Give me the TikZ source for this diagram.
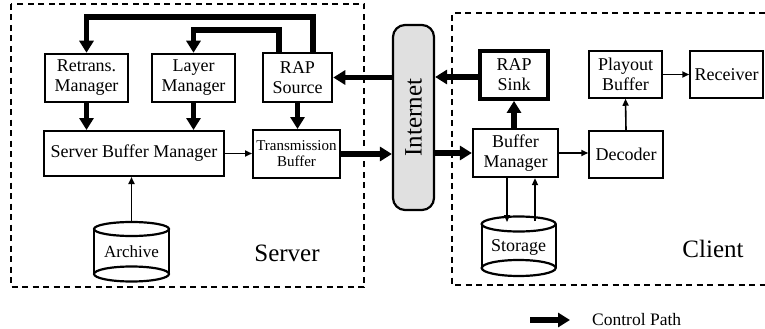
\documentclass[tikz,border=0pt]{standalone}
\usepackage{fontspec}
\setmainfont{Liberation Serif}
\usetikzlibrary{arrows.meta}
\definecolor{netgray}{RGB}{224,224,224}
\begin{document}
\begin{tikzpicture}[x=1pt,y=-1pt,
  box/.style={draw, align=center, inner sep=0pt, font=\fontsize{18}{20}\selectfont},
  dashbox/.style={line width=2pt, dash pattern=on 6pt off 4.5pt},
  ctl/.style={line width=5.5pt, -{Triangle[length=12pt,width=14pt]}},
  dataarrow/.style={line width=1.6pt, -{Triangle[length=7pt,width=6pt]}},
  bigtext/.style={font=\fontsize{25}{28}\selectfont},
  cyl/.style={line width=2.2pt}]
\useasboundingbox (0,0) rectangle (765,329);

% dashed regions
\draw[dashbox] (11,4) rectangle (364,287);
\draw[dashbox] (765,13) -- (452,13) -- (452,285) -- (765,285);

% server side
\node[box, line width=2.5pt, minimum width=83pt, minimum height=48pt] (rtm) at (86.5,78) {Retrans.\\Manager};
\node[box, line width=2.5pt, minimum width=83pt, minimum height=48pt] (lym) at (193.5,78) {Layer\\Manager};
\node[box, line width=2.5pt, minimum width=69pt, minimum height=49pt] (raps) at (297.5,77.5) {RAP\\Source};
\node[box, line width=2pt, minimum width=180pt, minimum height=45pt] (sbm) at (134,153.5) {Server Buffer Manager};
\node[box, line width=2pt, minimum width=87pt, minimum height=48pt, font=\fontsize{15}{16}\selectfont] (tb) at (296.5,154) {Transmission\\Buffer};

% archive cylinder
\draw[cyl] (131.5,229) ellipse [x radius=37.5pt, y radius=7pt];
\draw[cyl] (131.5,274) ellipse [x radius=37.5pt, y radius=7.5pt];
\draw[cyl] (94,229) -- (94,274) (169,229) -- (169,274);
\node[font=\fontsize{17}{19}\selectfont] (arch) at (131.5,252) {Archive};
\coordinate (archtop) at (131.5,222);

\node[bigtext] (srv) at (287,253) {Server};

% internet
\node[draw, line width=2.2pt, fill=netgray, rounded corners=12pt, minimum width=41pt, minimum height=185pt, inner sep=0pt] (inet) at (413.5,117.5) {};
\node[bigtext, rotate=90] (inettxt) at (inet.center) {Internet};

% client side
\node[box, line width=3.8pt, minimum width=68pt, minimum height=48pt] (sink) at (514,75) {RAP\\Sink};
\node[box, line width=1.5pt, minimum width=73pt, minimum height=47pt] (pob) at (625.5,74.5) {Playout\\Buffer};
\node[box, line width=1.5pt, minimum width=73pt, minimum height=47pt] (rcv) at (726.5,74.5) {Receiver};
\node[box, line width=2.3pt, minimum width=85pt, minimum height=48pt] (bm) at (515.5,153) {Buffer\\Manager};
\node[box, line width=1.5pt, minimum width=74pt, minimum height=47pt] (dec) at (626,154.5) {Decoder};

% storage cylinder
\draw[cyl] (518.7,224) ellipse [x radius=37pt, y radius=7.5pt];
\draw[cyl] (518.7,268) ellipse [x radius=37pt, y radius=8pt];
\draw[cyl] (481.7,224) -- (481.7,268) (555.7,224) -- (555.7,268);
\node[font=\fontsize{18}{20}\selectfont] (stor) at (518.7,247) {Storage};
\coordinate (sdown) at (507,222);
\coordinate (sup) at (535,221);

\node[bigtext] (cli) at (713,249) {Client};

% control paths
\coordinate (t1) at (313,17);
\coordinate (t2) at (279,30);
\draw[ctl] (raps.north -| t1) -- (t1) -| (rtm.north);
\draw[ctl] (raps.north -| t2) -- (t2) -| (lym.north);
\draw[ctl] (rtm.south) -- (rtm.south |- sbm.north);
\draw[ctl] (lym.south) -- (lym.south |- sbm.north);
\draw[ctl] (raps.south) -- (raps.south |- tb.north);
\draw[ctl] (tb.east) -- (tb.east -| inet.west);
\draw[ctl] (inet.west |- raps.east) -- (raps.east);
\draw[ctl] (sink.west |- 0,77) -- (inet.east |- 0,77);
\draw[ctl] (inet.east |- bm.west) -- (bm.west);
\draw[ctl] (sink.south |- bm.north) -- (sink.south);

% data paths
\draw[dataarrow] (sbm.east) -- (tb.west |- sbm.east);
\draw[dataarrow] (archtop) -- (archtop |- sbm.south);
\draw[dataarrow] (bm.east) -- (dec.west |- bm.east);
\draw[dataarrow] (dec.north) -- (pob.south);
\draw[dataarrow] (pob.east) -- (rcv.west |- pob.east);
\draw[dataarrow] (bm.south -| sdown) -- (sdown);
\draw[dataarrow] (sup) -- (bm.south -| sup);

% legend
\coordinate (l1) at (530,320);
\coordinate (l2) at (570,320);
\draw[ctl] (l1) -- (l2);
\node[anchor=west, font=\fontsize{17.5}{19}\selectfont, inner sep=0pt] (lgd) at (592,320) {Control Path};
\end{tikzpicture}
\end{document}
